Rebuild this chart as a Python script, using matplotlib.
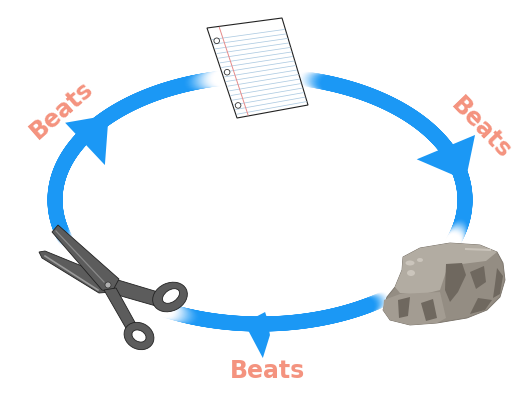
import numpy as np
import matplotlib.pyplot as plt
from matplotlib.collections import LineCollection
from matplotlib.patches import Polygon, Ellipse, Circle
from matplotlib.colors import to_rgb

# rock-paper-scissors cycle
labels = ["Beats", "Beats", "Beats"]
label_xy = [(62, 110), (481, 128), (268, 371)]
label_rot = [41, -46, 0]

# ring in pixel units (y goes down)
cx, cy, ra, rb = 260, 200, 205, 124
# where the ring fades out behind the pictures: (full, zero, zero, full), degrees
gaps = [(11.6, 19.8, 53, 59), (109, 118, 161, 168), (250, 259.3, 282.7, 290)]

# arrow heads: position on ring (deg) and shape in (along, outward) pixels
arrow_t = [211, 334.7, 90.5]
arrow_shapes = [
    [(32, -2.5), (-4, 23), (-6, -35)],
    [(38.7, -4.5), (-7.9, -30.1), (8.8, 30.8)],
    [(14, -1), (-6.8, -12), (-8.8, -6), (-11.8, 11), (-4.8, 34)],
]

blue = '#1b98f5'
salmon = '#f4937f'

fig = plt.figure(figsize=(5.16, 4.04), dpi=100)
ax = fig.add_axes([0, 0, 1, 1])
ax.set_xlim(0, 516)
ax.set_ylim(404, 0)
ax.axis('off')


def ring_point(t):
    tr = np.radians(t)
    return np.array([cx + ra * np.cos(tr), cy + rb * np.sin(tr)])


def weight(t):
    for f0, z0, z1, f1 in gaps:
        if z0 <= t <= z1:
            return 0.0
        if f0 < t < z0:
            w = (z0 - t) / (z0 - f0)
            return w * w * (3 - 2 * w)
        if z1 < t < f1:
            w = (t - z1) / (f1 - z1)
            return w * w * (3 - 2 * w)
    return 1.0


# ring with fades
tt = np.linspace(0, 360, 1441)
pts = np.array([ring_point(t) for t in tt])
segs = np.stack([pts[:-1], pts[1:]], axis=1)
b = np.array(to_rgb(blue))
cols = []
for t in (tt[:-1] + tt[1:]) / 2:
    w = weight(t)
    cols.append(tuple(w * b + (1 - w) * np.ones(3)))
ax.add_collection(LineCollection(segs, colors=cols, linewidths=10.8,
                                 capstyle='round', zorder=1))

# arrow heads
for t, shape in zip(arrow_t, arrow_shapes):
    tr = np.radians(t)
    p = ring_point(t)
    tan = np.array([-ra * np.sin(tr), rb * np.cos(tr)])
    tan /= np.linalg.norm(tan)
    nrm = np.array([tan[1], -tan[0]])
    poly = [p + s * tan + n * nrm for s, n in shape]
    ax.add_patch(Polygon(poly, closed=True, fc=blue, ec='none', zorder=2))

# labels
for txt, (x, y), rot in zip(labels, label_xy, label_rot):
    ax.text(x, y, txt, color=salmon, fontsize=17, fontweight='bold',
            rotation=rot, rotation_mode='anchor', ha='center', va='center',
            zorder=10)

# ---- paper ----
paper = np.array([(207, 28), (282, 18), (308, 105), (237, 118)])
tl, tr_, br, bl = paper


def on_paper(u, v):
    top = tl + u * (tr_ - tl)
    bot = bl + u * (br - bl)
    return top + v * (bot - top)


ax.add_patch(Polygon(paper, closed=True, fc='white', ec='#222222', lw=0.8, zorder=5))
for v in np.linspace(0.13, 0.96, 17):
    a1 = on_paper(0.02, v)
    a2 = on_paper(0.99, v)
    ax.plot([a1[0], a2[0]], [a1[1], a2[1]], color='#aecbe2', lw=0.55, zorder=6)
m1 = on_paper(0.16, 0.01)
m2 = on_paper(0.16, 0.99)
ax.plot([m1[0], m2[0]], [m1[1], m2[1]], color='#e58a8a', lw=0.7, zorder=6)
for v in [0.15, 0.5, 0.87]:
    h = on_paper(0.07, v)
    ax.add_patch(Circle(h, 2.8, fc='white', ec='#333333', lw=0.6, zorder=7))

# ---- rock ----
rock = [(403, 257), (420, 248), (450, 243), (480, 245), (497, 252), (503, 263),
        (505, 280), (500, 297), (487, 310), (467, 318), (437, 323), (410, 325),
        (390, 320), (383, 310), (387, 297), (395, 287), (402, 270)]
ax.add_patch(Polygon(rock, closed=True, fc='#948d83', ec='#777067', lw=0.6, zorder=5))
rock_top = [(403, 257), (420, 248), (450, 243), (480, 245), (497, 252), (486, 261),
            (462, 264), (446, 272), (440, 290), (420, 295), (400, 293), (395, 287),
            (402, 270)]
ax.add_patch(Polygon(rock_top, closed=True, fc='#b2aca2', ec='none', zorder=6))
rock_front = [(384, 300), (400, 294), (440, 292), (446, 318), (437, 323), (410, 325),
              (390, 320), (383, 310)]
ax.add_patch(Polygon(rock_front, closed=True, fc='#a39c92', ec='none', zorder=6))
rock_dark = [
    [(446, 264), (462, 263), (466, 275), (458, 292), (450, 302), (445, 290)],
    [(470, 272), (484, 266), (486, 282), (476, 289)],
    [(497, 268), (503, 276), (500, 294), (493, 298), (495, 284)],
    [(478, 298), (492, 300), (485, 310), (470, 314)],
    [(398, 300), (410, 297), (408, 316), (399, 318)],
    [(421, 303), (433, 299), (437, 318), (426, 321)],
]
for d in rock_dark:
    ax.add_patch(Polygon(d, closed=True, fc='#6f685f', ec='none', zorder=7))
for (x, y, w, h) in [(410, 263, 9, 5), (420, 260, 6, 4), (411, 273, 8, 6)]:
    ax.add_patch(Ellipse((x, y), w, h, fc='#cbc5bc', ec='none', zorder=7))
ax.plot([466, 490], [249, 250], color='#c9c3ba', lw=1.5, zorder=7)

# ---- scissors ----
sc = '#5c5c5c'
blade_b = [(39, 252), (45, 251), (104, 275), (112, 292), (99, 293), (42, 258)]
arm_b = [(110, 279), (118, 280), (158, 292), (156, 306), (114, 294)]
blade_a = [(52, 232), (58, 225), (119, 279), (112, 292), (102, 290)]
arm_a = [(104, 290), (116, 288), (137, 326), (127, 330)]
for part in [blade_b, arm_b]:
    ax.add_patch(Polygon(part, closed=True, fc=sc, ec='#222222', lw=0.6, zorder=5))
ax.plot([45, 98], [256, 290], color='#9a9a9a', lw=1.2, zorder=6)
ax.add_patch(Ellipse((170, 297), 36, 28, angle=-25, fc=sc, ec='#222222', lw=0.6, zorder=5))
ax.add_patch(Ellipse((171, 296), 19, 12, angle=-35, fc='white', ec='#222222', lw=0.6, zorder=6))
for part in [blade_a, arm_a]:
    ax.add_patch(Polygon(part, closed=True, fc=sc, ec='#222222', lw=0.6, zorder=7))
ax.plot([56, 104], [231, 282], color='#8a8a8a', lw=0.9, zorder=8)
ax.add_patch(Ellipse((139, 336), 31, 26, angle=30, fc=sc, ec='#222222', lw=0.6, zorder=7))
ax.add_patch(Ellipse((139, 336), 15, 11, angle=30, fc='white', ec='#222222', lw=0.6, zorder=8))
ax.add_patch(Circle((108, 285), 3, fc='#b0b0b0', ec='#333333', lw=0.5, zorder=9))

fig.savefig('out.png', dpi=100)
